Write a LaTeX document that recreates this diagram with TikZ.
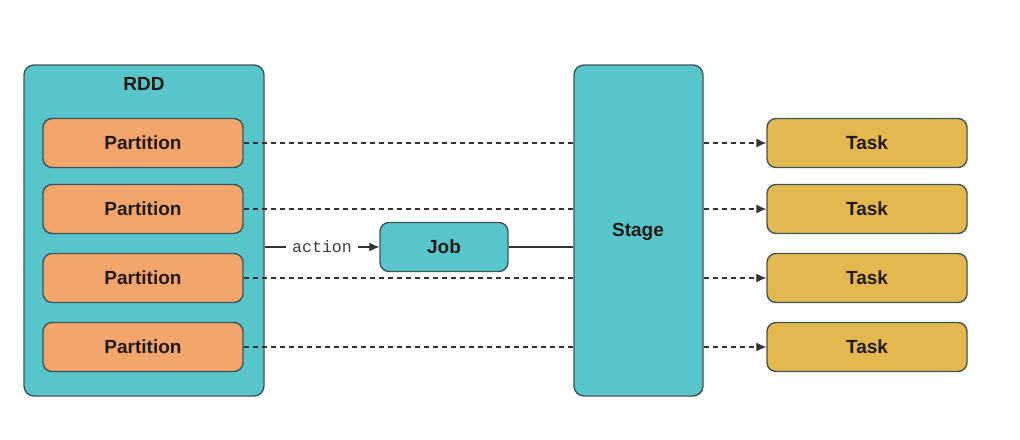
\documentclass[tikz,border=0pt]{standalone}
\usepackage{fontspec}
\setmainfont{Liberation Sans}
\setmonofont{Liberation Mono}
\usetikzlibrary{arrows.meta,positioning,calc}
\definecolor{teal}{HTML}{58C5CB}
\definecolor{peach}{HTML}{F2A66C}
\definecolor{gold}{HTML}{E3B84E}
\definecolor{edge}{HTML}{3E5558}
\definecolor{ink}{HTML}{231A14}
\begin{document}
\begin{tikzpicture}[x=0.5pt,y=-0.5pt,>={Latex[length=5pt,width=4.5pt]},
  bigbox/.style={draw=edge,line width=0.7pt,fill=teal,rounded corners=5pt,minimum width=#1,minimum height=165.5pt},
  part/.style={draw=edge,line width=0.7pt,fill=peach,rounded corners=4.5pt,minimum width=100pt,minimum height=24.5pt,text=ink,font=\fontsize{9.5}{11}\selectfont\bfseries},
  task/.style={part,fill=gold},
  job/.style={part,fill=teal,minimum width=64pt},
  lbl/.style={text=ink,font=\fontsize{9.5}{11}\selectfont\bfseries},
  link/.style={line width=0.6pt,draw=black!80},
  dashlink/.style={link,dash pattern=on 2.5pt off 2pt}]
\useasboundingbox (0,0) rectangle (1020,439);
\node[bigbox=120pt] (rdd) at (144,230.5) {};
\node[lbl,below=3pt of rdd.north] (rddname) {RDD};
\node[bigbox=64.5pt] (stage) at (638.5,230.5) {};
\node[lbl] (stagename) at (638,232) {Stage};
\node[job] (job) at (444,247) {Job};
\foreach \i/\y in {1/143,2/209,3/278,4/347}{
  \node[part] (p\i) at (143,\y) {Partition};
  \node[task] (t\i) at (867,\y) {Task};
  \draw[dashlink] (p\i.east) -- (p\i.east -| stage.west);
  \draw[dashlink,->] (stage.east |- t\i) -- (t\i.west);
}
\draw[link,->] (rdd.east |- job) -- node[fill=white,inner xsep=3pt,text=black!75,font=\fontsize{8.3}{10}\ttfamily] {action} (job.west);
\draw[link] (job.east) -- (stage.west |- job);
\end{tikzpicture}
\end{document}
